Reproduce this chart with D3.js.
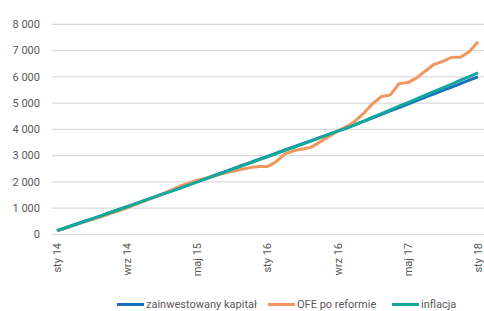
<!DOCTYPE html>
<html>
<head>
<meta charset="utf-8">
<script src="https://cdn.jsdelivr.net/npm/d3@7"></script>
<style>
  body { margin: 0; background: #fff; }
  svg text { font-family: Roboto, "Liberation Sans", sans-serif; fill: #595959; }
</style>
</head>
<body>
<div id="vis"></div>
<script>
// months Jan 2014 .. Jan 2018
const months = d3.range(49);
const tickIdx = [0, 8, 16, 24, 32, 40, 48];
const tickLabels = ["sty 14", "wrz 14", "maj 15", "sty 16", "wrz 16", "maj 17", "sty 18"];
const yTicks = [0, 1000, 2000, 3000, 4000, 5000, 6000, 7000, 8000];

const kapital = [137, 250, 362, 478, 590, 705, 820, 935, 1050, 1168, 1290, 1408, 1530,
  1650, 1770, 1892, 2010, 2130, 2252, 2370, 2490, 2612, 2730, 2850, 2970, 3092, 3210,
  3330, 3450, 3572, 3690, 3810, 3932, 4050, 4180, 4310, 4440, 4568, 4700, 4830, 4960,
  5090, 5222, 5350, 5480, 5610, 5742, 5870, 6000];
const ofe = [137, 240, 350, 455, 560, 670, 780, 890, 1010, 1140, 1270, 1400, 1530,
  1680, 1830, 1950, 2060, 2140, 2230, 2320, 2400, 2470, 2540, 2580, 2580, 2770, 3070,
  3180, 3250, 3320, 3520, 3730, 3930, 4100, 4320, 4620, 4980, 5250, 5310, 5740, 5780,
  5960, 6220, 6476, 6590, 6745, 6745, 6956, 7337];
const inflacja = [137, 250, 362, 478, 590, 705, 820, 935, 1050, 1168, 1290, 1408, 1530,
  1638, 1755, 1876, 1995, 2115, 2236, 2355, 2475, 2596, 2715, 2835, 2955, 3076, 3195,
  3315, 3435, 3557, 3680, 3805, 3928, 4048, 4180, 4315, 4460, 4598, 4740, 4880, 5020,
  5160, 5300, 5440, 5580, 5720, 5870, 6010, 6150];

const series = [
  { name: "zainwestowany kapitał", values: kapital, color: "#1a6fbf" },
  { name: "OFE po reformie", values: ofe, color: "#f0965e" },
  { name: "inflacja", values: inflacja, color: "#12a89c" }
];

const W = 484, H = 311;
const svg = d3.select("#vis").append("svg")
    .attr("width", W)
    .attr("height", H);

const x = d3.scaleLinear().domain([0, 48]).range([57, 478]);
const y = d3.scaleLinear().domain([0, 8000]).range([234.3, 24.3]);

// gridlines
svg.append("g")
  .selectAll("line")
  .data(yTicks)
  .join("line")
    .attr("x1", 52).attr("x2", 484)
    .attr("y1", d => y(d)).attr("y2", d => y(d))
    .attr("stroke", "#d9d9d9")
    .attr("stroke-width", 1.2);

// y labels
svg.append("g")
  .selectAll("text")
  .data(yTicks)
  .join("text")
    .attr("x", 40)
    .attr("y", d => y(d))
    .attr("dy", "0.35em")
    .attr("text-anchor", "end")
    .style("font-size", "11px")
    .text(d => d3.format(",")(d).replace(",", " "));

// x labels, rotated
svg.append("g")
  .selectAll("text")
  .data(tickIdx)
  .join("text")
    .attr("transform", d => `translate(${x(d)}, 243) rotate(-90)`)
    .attr("dy", "0.35em")
    .attr("text-anchor", "end")
    .style("font-size", "11px")
    .text((d, i) => tickLabels[i]);

const line = d3.line()
    .x((d, i) => x(months[i]))
    .y(d => y(d));

svg.append("g")
  .selectAll("path")
  .data(series)
  .join("path")
    .attr("fill", "none")
    .attr("stroke", d => d.color)
    .attr("stroke-width", 3)
    .attr("stroke-linejoin", "round")
    .attr("d", d => line(d.values));

// legend
const legendX = [117, 268, 392];
const legend = svg.append("g")
  .selectAll("g")
  .data(series)
  .join("g")
    .attr("transform", (d, i) => `translate(${legendX[i]}, 304.5)`);

legend.append("line")
    .attr("x1", 0).attr("x2", 27)
    .attr("stroke", d => d.color)
    .attr("stroke-width", 3);

legend.append("text")
    .attr("x", 29)
    .attr("dy", "0.35em")
    .style("font-size", "11px")
    .text(d => d.name);
</script>
</body>
</html>
